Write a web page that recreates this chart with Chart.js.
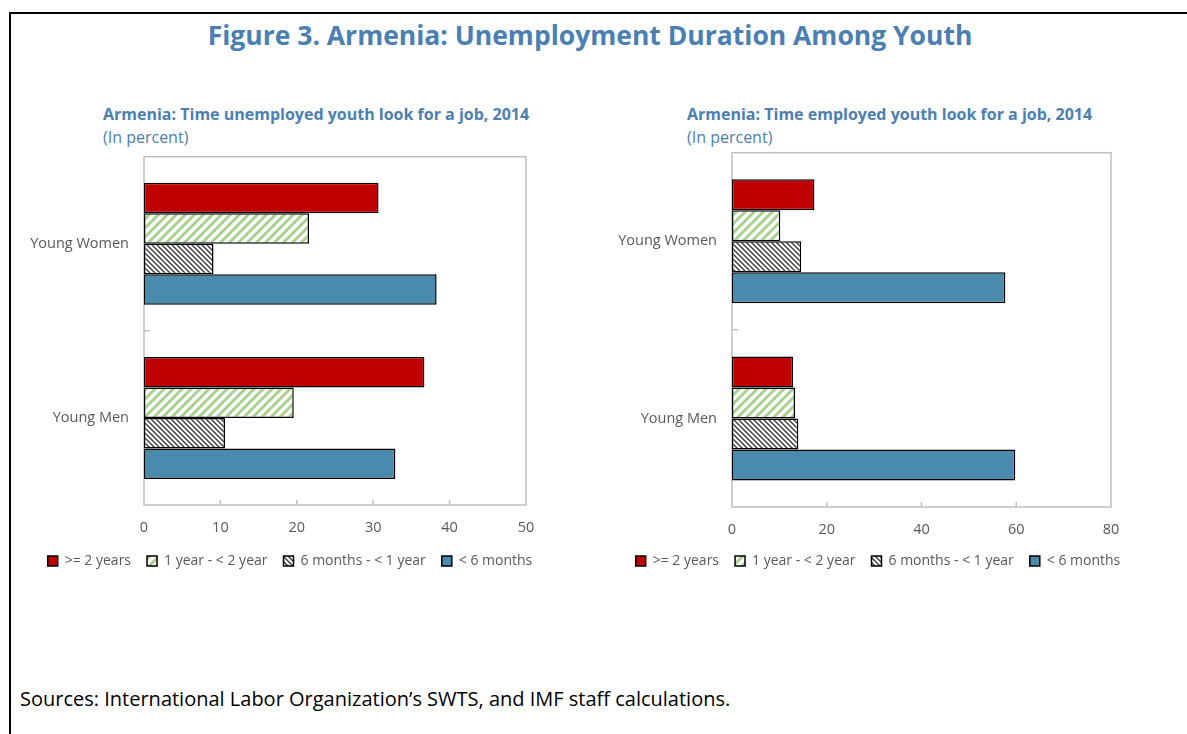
<!DOCTYPE html>
<html>
<head>
<meta charset="utf-8">
<script src="https://cdn.jsdelivr.net/npm/chart.js@4/dist/chart.umd.min.js"></script>
<style>
  body { margin: 0; width: 1187px; height: 734px; background: #fff; position: relative; overflow: hidden; font-family: "Open Sans", sans-serif; }
  #frame { position: absolute; left: 9px; top: 12px; right: 0; bottom: 0; border-left: 2px solid #000; border-top: 2px solid #000; }
  #title { position: absolute; left: 0; width: 1180px; top: 17px; text-align: center; font-size: 26.5px; font-weight: 700; color: #4a7fb3; }
  .sub { position: absolute; font-size: 16px; color: #4a7fb3; line-height: 23px; }
  .sub b { font-weight: 700; }
  #sources { position: absolute; left: 20px; top: 685px; font-size: 20px; color: #000; }
  .box { position: absolute; }
</style>
</head>
<body>
<div id="frame"></div>
<div id="title">Figure 3. Armenia: Unemployment Duration Among Youth</div>
<div class="sub" style="left:103px; top:103px;"><b>Armenia: Time unemployed youth look for a job, 2014</b><br>(In percent)</div>
<div class="sub" style="left:687px; top:103px;"><b>Armenia: Time employed youth look for a job, 2014</b><br>(In percent)</div>
<div class="box" style="left:0px; top:148px; width:580px; height:430px;"><canvas id="leftChart"></canvas></div>
<div class="box" style="left:588px; top:144px; width:580px; height:434px;"><canvas id="rightChart"></canvas></div>
<div id="sources">Sources: International Labor Organization’s SWTS, and IMF staff calculations.</div>

<script>
// Daten
const categories = ['Young Women', 'Young Men'];
const seriesNames = ['>= 2 years', '1 year - < 2 year', '6 months - < 1 year', '< 6 months'];

// Arbeitslose Jugendliche (links)
const unempOver2y = [30.7, 36.7];
const unemp1to2y = [21.6, 19.6];
const unemp6mTo1y = [9.1, 10.6];
const unempUnder6m = [38.3, 32.9];

// Beschäftigte Jugendliche (rechts)
const empOver2y = [17.4, 12.9];
const emp1to2y = [10.2, 13.3];
const emp6mTo1y = [14.6, 14.0];
const empUnder6m = [57.7, 59.8];

const leftTicks = { max: 50, step: 10 };
const rightTicks = { max: 80, step: 20 };

// Schraffur-Muster
function stripes(bg, fg, size, lw, slash) {
  const c = document.createElement('canvas');
  c.width = c.height = size;
  const g = c.getContext('2d');
  g.fillStyle = bg;
  g.fillRect(0, 0, size, size);
  g.strokeStyle = fg;
  g.lineWidth = lw;
  g.beginPath();
  if (slash) {
    g.moveTo(0, size); g.lineTo(size, 0);
    g.moveTo(-size / 2, size / 2); g.lineTo(size / 2, -size / 2);
    g.moveTo(size / 2, size * 1.5); g.lineTo(size * 1.5, size / 2);
  } else {
    g.moveTo(0, 0); g.lineTo(size, size);
    g.moveTo(-size / 2, size / 2); g.lineTo(size / 2, size * 1.5);
    g.moveTo(size / 2, -size / 2); g.lineTo(size * 1.5, size / 2);
  }
  g.stroke();
  return g.createPattern(c, 'repeat');
}

const fills = [
  '#c00000',
  stripes('#ffffff', '#a9d18e', 9, 3, true),
  stripes('#ffffff', '#3a3a3a', 5, 1.4, false),
  '#4a8aad'
];

// Rahmen um Plotfläche + Innen-Ticks
const frameTicks = {
  id: 'frameTicks',
  beforeDatasetsDraw(chart) {
    const { ctx, chartArea: a } = chart;
    ctx.save();
    ctx.strokeStyle = '#bfbfbf';
    ctx.lineWidth = 1.5;
    ctx.strokeRect(a.left, a.top, a.right - a.left, a.bottom - a.top);
    ctx.beginPath();
    const xs = chart.scales.x;
    xs.ticks.forEach((t, i) => {
      if (i === 0 || i === xs.ticks.length - 1) return;
      const px = xs.getPixelForValue(t.value);
      ctx.moveTo(px, a.bottom); ctx.lineTo(px, a.bottom - 5);
    });
    const ys = chart.scales.y;
    for (let i = 1; i < categories.length; i++) {
      const py = (ys.getPixelForValue(i - 1) + ys.getPixelForValue(i)) / 2;
      ctx.moveTo(a.left, py); ctx.lineTo(a.left + 6, py);
    }
    ctx.stroke();
    ctx.restore();
  }
};

const tickFont = { family: 'Open Sans', size: 14.5 };

function makeChart(id, series, tickCfg, rightGap, xHeight) {
  const ctx = document.getElementById(id).getContext('2d');
  return new Chart(ctx, {
    type: 'bar',
    data: {
      labels: categories,
      datasets: series.map((vals, i) => ({
        label: seriesNames[i],
        data: vals,
        backgroundColor: fills[i],
        borderColor: '#000',
        borderWidth: 1.5,
        borderSkipped: false,
        categoryPercentage: 0.7,
        barPercentage: 1
      }))
    },
    options: {
      indexAxis: 'y',
      responsive: true,
      maintainAspectRatio: false,
      animation: false,
      layout: { padding: 0 },
      scales: {
        x: {
          min: 0,
          max: tickCfg.max,
          ticks: { stepSize: tickCfg.step, color: '#595959', font: tickFont, padding: 14, maxRotation: 0 },
          grid: { display: false, drawTicks: false },
          border: { display: false },
          afterFit: s => { s.height = xHeight; }
        },
        y: {
          ticks: { color: '#595959', font: tickFont, padding: 0 },
          grid: { display: false, drawTicks: true, tickLength: 15 },
          border: { display: false },
          afterFit: s => { s.width = 144; }
        },
        // leere Achse rechts, damit die Legende die volle Breite bekommt
        yR: {
          type: 'linear',
          position: 'right',
          ticks: { display: false },
          grid: { display: false, drawTicks: false },
          border: { display: false },
          afterFit: s => { s.width = rightGap; }
        }
      },
      plugins: {
        legend: {
          position: 'bottom',
          labels: {
            boxWidth: 10,
            boxHeight: 10,
            padding: 16,
            color: '#595959',
            font: { family: 'Open Sans', size: 14 }
          }
        },
        tooltip: { enabled: false }
      }
    },
    plugins: [frameTicks]
  });
}

makeChart('leftChart', [unempOver2y, unemp1to2y, unemp6mTo1y, unempUnder6m], leftTicks, 54, 33);
makeChart('rightChart', [empOver2y, emp1to2y, emp6mTo1y, empUnder6m], rightTicks, 57, 31);
</script>
</body>
</html>
